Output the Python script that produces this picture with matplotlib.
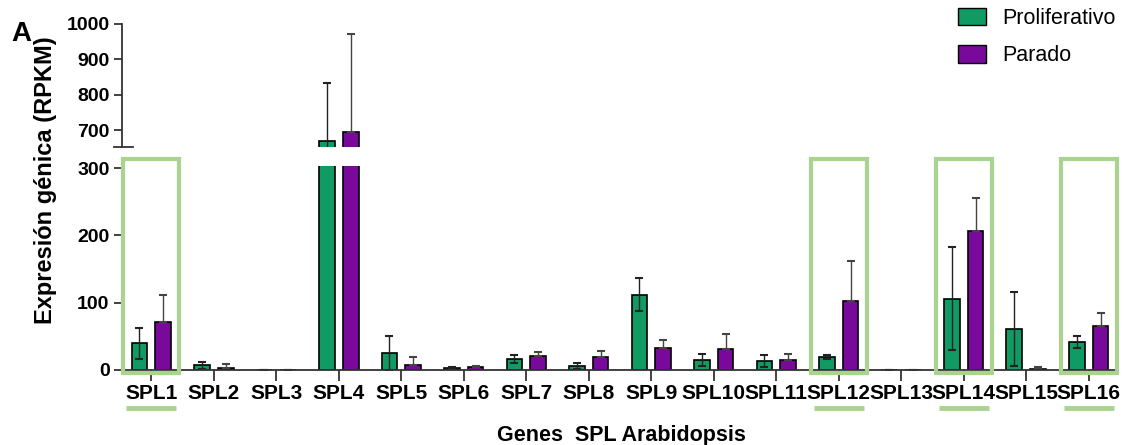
import numpy as np
import matplotlib.pyplot as plt
from matplotlib.patches import Rectangle, Patch
from matplotlib.lines import Line2D

plt.rcParams['font.family'] = ['Liberation Sans', 'DejaVu Sans']

genes = ['SPL1', 'SPL2', 'SPL3', 'SPL4', 'SPL5', 'SPL6', 'SPL7', 'SPL8',
         'SPL9', 'SPL10', 'SPL11', 'SPL12', 'SPL13', 'SPL14', 'SPL15', 'SPL16']
prolif = [40, 7, 0, 669, 25, 3, 16, 6, 112, 15, 14, 19, 0, 106, 61, 42]
prolif_sd = [23, 5, 0, 164, 25, 1, 6, 5, 24, 9.5, 9, 3, 0, 77, 55, 9]
parado = [72, 3.5, 0, 694, 7, 4.5, 21, 19, 32, 31, 15, 102, 0, 207, 2, 66]
parado_sd = [40, 5, 0, 278, 12, 1, 6, 9, 13, 22, 9, 60, 0, 48, 2, 18]
highlight = ['SPL1', 'SPL12', 'SPL14', 'SPL16']

green = '#0F9B63'
purple = '#79099A'
box_col = '#A9D38E'

fig = plt.figure(figsize=(11.24, 4.45), dpi=100)
ax_lo = fig.add_axes([122/1124, 75/445, 996/1124, 204/445])
ax_hi = fig.add_axes([122/1124, 298/445, 996/1124, 123/445])

x = np.arange(len(genes))
w = 0.25
off = 0.19
zeros = np.zeros(len(genes))

for ax in (ax_lo, ax_hi):
    ax.bar(x - off, prolif, w, color=green, edgecolor='black', linewidth=1.2,
           yerr=prolif_sd, error_kw=dict(elinewidth=1, capsize=3, capthick=1.5, ecolor='#222222'))
    ax.bar(x + off, parado, w, color=purple, edgecolor='black', linewidth=1.2,
           yerr=[zeros, parado_sd], error_kw=dict(elinewidth=1, capsize=3, capthick=1.5, ecolor='#444444'))
    ax.set_xlim(-0.47, len(genes) - 0.53)
    for s in ['top', 'right']:
        ax.spines[s].set_visible(False)
    ax.spines['left'].set_color('#333333')
    ax.spines['left'].set_linewidth(1.3)
    ax.tick_params(axis='y', labelsize=14, length=6, width=1.3, color='#333333', pad=3)

ax_lo.set_ylim(0, 303)
ax_lo.set_yticks([0, 100, 200, 300])
ax_lo.set_xticks(x)
ax_lo.set_xticklabels(genes, fontsize=15, fontweight='bold')
ax_lo.tick_params(axis='x', length=8, width=1.3, color='#333333', pad=2)
ax_lo.spines['bottom'].set_color('#333333')
ax_lo.spines['bottom'].set_linewidth(1.3)
for lab in ax_lo.get_yticklabels():
    lab.set_fontweight('bold')

ax_hi.set_ylim(652, 1000)
ax_hi.set_yticks([700, 800, 900, 1000])
for lab in ax_hi.get_yticklabels():
    lab.set_fontweight('bold')
ax_hi.spines['bottom'].set_visible(False)
ax_hi.set_xticks([])
# break mark at the bottom of the upper axis
ax_hi.add_line(Line2D([-0.6, -0.3], [652, 652], color='#333333', lw=1.3, clip_on=False))

# highlight boxes and underlines
for g in highlight:
    i = genes.index(g)
    ax_lo.add_patch(Rectangle((i - 0.45, -4), 0.9, 317, fill=False, edgecolor=box_col,
                              linewidth=3, clip_on=False, zorder=5))
    ax_lo.add_line(Line2D([i - 0.4, i + 0.4], [-56, -56], color=box_col, lw=3.5,
                          clip_on=False, solid_capstyle='butt'))

fig.text(46 / 1124, (445 - 180) / 445, 'Expresión génica (RPKM)', rotation=90, ha='center', va='center',
         fontsize=17, fontweight='bold')
fig.text(621 / 1124, 10 / 445, 'Genes  SPL Arabidopsis', ha='center', va='center',
         fontsize=15.5, fontweight='bold')
fig.text(11 / 1124, (445 - 34) / 445, 'A', ha='left', va='center', fontsize=20, fontweight='bold')

handles = [Patch(facecolor=green, edgecolor='black', label='Proliferativo'),
           Patch(facecolor=purple, edgecolor='black', label='Parado')]
fig.legend(handles=handles, loc='upper right', bbox_to_anchor=(1.01, 1.025), frameon=False,
           fontsize=15.5, handlelength=1.3, handleheight=0.85, labelspacing=0.75, handletextpad=0.75)

fig.savefig('out.png', dpi=100)
